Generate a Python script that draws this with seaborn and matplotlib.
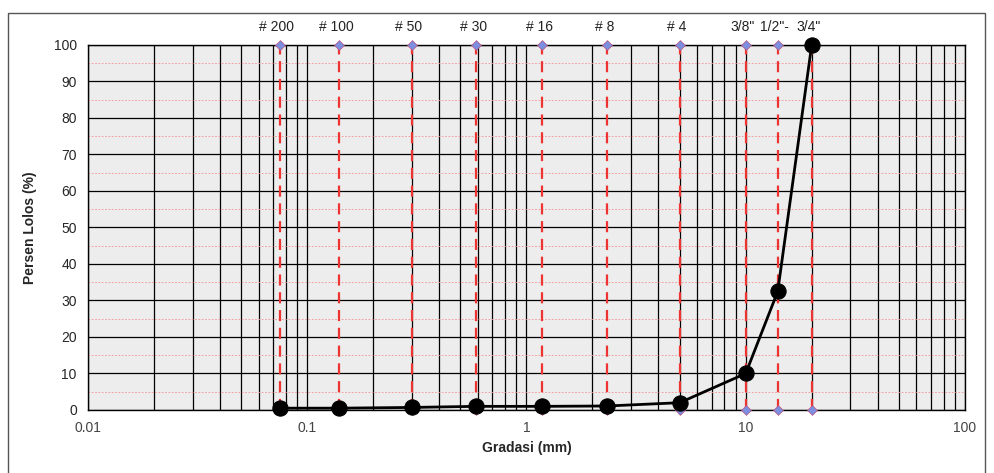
import numpy as np
import pandas as pd
import matplotlib
matplotlib.use("Agg")
import matplotlib.pyplot as plt
import seaborn as sns
from matplotlib.ticker import LogLocator, FixedLocator, NullFormatter

# sieve data (positions)
sieve_names = ["# 200", "# 100", "# 50", "# 30", "# 16", "# 8", "# 4", '3/8"', '1/2"-', '3/4"']
sieve_mm = [0.075, 0.14, 0.3, 0.59, 1.18, 2.34, 5.0, 10.0, 14.0, 20.0]
persen_lolos = [0.5, 0.5, 0.7, 1.0, 1.0, 1.1, 2.0, 10.0, 32.5, 100.0]

df = pd.DataFrame({"Gradasi": sieve_mm, "Lolos": persen_lolos, "Saringan": sieve_names})

sns.set_style("white")
plt.rcParams["font.family"] = ["Liberation Sans", "DejaVu Sans"]

fig = plt.figure(figsize=(9.95, 4.73), dpi=100)
ax = fig.add_axes([0.0884, 0.1332, 0.8814, 0.7717])
ax.set_facecolor("#ededed")

ax.set_xscale("log")
ax.set_xlim(0.01, 100)
ax.set_ylim(0, 100)

# grid: black on decades/minor and every 10, pink dotted at 5s
ax.xaxis.set_major_locator(LogLocator(base=10))
ax.xaxis.set_minor_locator(LogLocator(base=10, subs=np.arange(2, 10)))
ax.xaxis.set_minor_formatter(NullFormatter())
ax.set_xticks([0.01, 0.1, 1, 10, 100])
ax.set_xticklabels(["0.01", "0.1", "1", "10", "100"])
ax.set_yticks(range(0, 101, 10))
ax.yaxis.set_minor_locator(FixedLocator(range(5, 100, 10)))
ax.grid(True, which="major", axis="both", color="black", lw=0.9)
ax.grid(True, which="minor", axis="x", color="black", lw=0.9)
ax.grid(True, which="minor", axis="y", color="#f29090", lw=0.6, ls=(0, (2, 2)))
ax.tick_params(axis="x", which="both", length=0, labelsize=10, colors="#444444", pad=8)
ax.tick_params(axis="y", which="major", length=4, direction="out", labelsize=10, pad=4)
ax.tick_params(axis="y", which="minor", length=0)
for s in ax.spines.values():
    s.set_color("black")
    s.set_linewidth(1)

# sieve reference lines
ax.vlines(df["Gradasi"], 0, 100, colors="#ee3333", linestyles=(0, (5, 3)), lw=1.6, zorder=2)
edge = pd.DataFrame({"Gradasi": sieve_mm * 2, "y": [100] * len(sieve_mm) + [0] * len(sieve_mm)})
sns.scatterplot(data=edge, x="Gradasi", y="y", marker="D", s=25, color="#7b8fe0",
                edgecolor="#c05080", linewidth=0.5, ax=ax, zorder=3, clip_on=False)
for name, x in zip(sieve_names, sieve_mm):
    ax.text(x * 0.97, 103, name, ha="center", va="bottom", fontsize=10, color="#222222")

# gradation curve
sns.lineplot(data=df, x="Gradasi", y="Lolos", color="black", lw=2, marker="o",
             markersize=11, markeredgecolor="black", ax=ax, zorder=4, clip_on=False)

ax.set_xlabel("Gradasi (mm)", fontsize=10, fontweight="bold", labelpad=4)
ax.set_ylabel("Persen Lolos (%)", fontsize=10, fontweight="bold", labelpad=12)

# chart frame
fig.patches.append(plt.Rectangle((0.008, -0.02), 0.982, 0.993, transform=fig.transFigure,
                                 fill=False, edgecolor="#555555", lw=1))

fig.savefig("out.png", dpi=100)
